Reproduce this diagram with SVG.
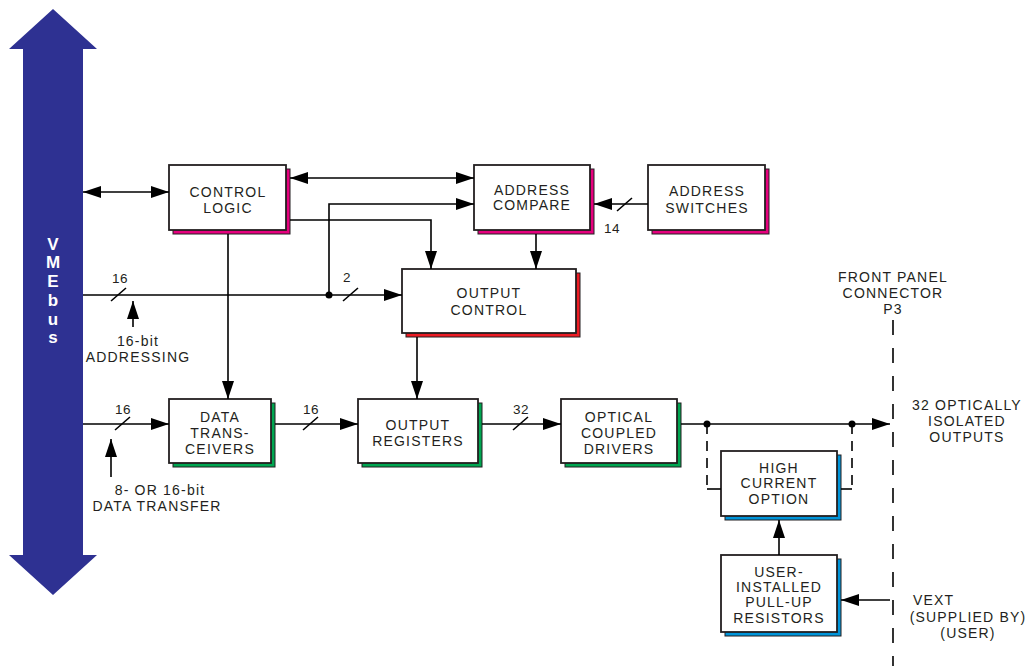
<svg xmlns="http://www.w3.org/2000/svg" width="1030" height="666" viewBox="0 0 1030 666">
<style>
text{font-family:"Liberation Sans",Arial,sans-serif;font-size:14px;fill:#231F20;letter-spacing:1.2px;text-anchor:middle}
.num{font-size:13.5px;letter-spacing:0.5px}
.lft{text-anchor:start}
.vme{fill:#fff;font-weight:bold;font-size:17px;letter-spacing:0}
.box{fill:#fff;stroke:#231F20;stroke-width:1.8}
.sh{stroke:#231F20;stroke-width:1}
.mag{fill:#E6007E}.red{fill:#ED1C24}.grn{fill:#00A651}.blu{fill:#0095DA}
.ln{fill:none;stroke:#000;stroke-width:1.6}
.arr{marker-end:url(#ah)}
.dbl{marker-start:url(#ah);marker-end:url(#ah)}
.dsh{stroke-dasharray:10 7}
.fp{fill:none;stroke:#000;stroke-width:1.6;stroke-dasharray:15 13}
</style>
<defs>
<marker id="ah" markerUnits="userSpaceOnUse" markerWidth="18" markerHeight="12" refX="18" refY="6" orient="auto-start-reverse">
<path d="M0,0 L18,6 L0,12 z" fill="#000"/>
</marker>
</defs>
<rect width="1030" height="666" fill="#fff"/>

<g id="vmebus">
<polygon points="53,9 97,49 83,49 83,555 97,555 53,595 9,555 23,555 23,49 9,49" fill="#2E3192"/>
<text class="vme" x="53" y="250">V</text>
<text class="vme" x="53" y="268">M</text>
<text class="vme" x="53" y="287">E</text>
<text class="vme" x="53" y="306">b</text>
<text class="vme" x="53" y="325">u</text>
<text class="vme" x="53" y="343">s</text>
</g>

<g id="control-logic">
<rect class="sh mag" x="173" y="169" width="117" height="65"/>
<rect class="box" x="169" y="165" width="117" height="65"/>
<text x="228" y="197">CONTROL</text>
<text x="228" y="213">LOGIC</text>
</g>

<g id="address-compare">
<rect class="sh mag" x="478" y="169" width="116" height="65"/>
<rect class="box" x="474" y="165" width="116" height="65"/>
<text x="532" y="195">ADDRESS</text>
<text x="532" y="210">COMPARE</text>
</g>

<g id="address-switches">
<rect class="sh mag" x="652" y="169" width="117" height="65"/>
<rect class="box" x="648" y="165" width="117" height="65"/>
<text x="707" y="196">ADDRESS</text>
<text x="707" y="213">SWITCHES</text>
</g>

<g id="output-control">
<rect class="sh red" x="406" y="273" width="174" height="64"/>
<rect class="box" x="402" y="269" width="174" height="64"/>
<text x="489" y="298">OUTPUT</text>
<text x="489" y="315">CONTROL</text>
</g>

<g id="data-transceivers">
<rect class="sh grn" x="173" y="403" width="102" height="64"/>
<rect class="box" x="169" y="399" width="102" height="64"/>
<text x="220" y="422">DATA</text>
<text x="220" y="438">TRANS-</text>
<text x="220" y="454">CEIVERS</text>
</g>

<g id="output-registers">
<rect class="sh grn" x="362" y="403" width="120" height="64"/>
<rect class="box" x="358" y="399" width="120" height="64"/>
<text x="418" y="430">OUTPUT</text>
<text x="418" y="446">REGISTERS</text>
</g>

<g id="optical-drivers">
<rect class="sh grn" x="565" y="403" width="116" height="64"/>
<rect class="box" x="561" y="399" width="116" height="64"/>
<text x="619" y="422">OPTICAL</text>
<text x="619" y="438">COUPLED</text>
<text x="619" y="454">DRIVERS</text>
</g>

<g id="high-current-option">
<rect class="sh blu" x="725" y="455" width="116" height="65"/>
<rect class="box" x="721" y="451" width="116" height="65"/>
<text x="779" y="473">HIGH</text>
<text x="779" y="488">CURRENT</text>
<text x="779" y="504">OPTION</text>
</g>

<g id="pull-up-resistors">
<rect class="sh blu" x="725" y="559" width="116" height="77"/>
<rect class="box" x="721" y="555" width="116" height="77"/>
<text x="779" y="577">USER-</text>
<text x="779" y="592">INSTALLED</text>
<text x="779" y="607">PULL-UP</text>
<text x="779" y="623">RESISTORS</text>
</g>

<g id="connectors">
<line class="ln dbl" x1="83" y1="192" x2="169" y2="192"/>
<line class="ln dbl" x1="290" y1="178" x2="474" y2="178"/>
<polyline class="ln arr" points="329,295 329,204 474,204"/>
<polyline class="ln arr" points="290,220 431,220 431,269"/>
<line class="ln arr" x1="228" y1="234" x2="228" y2="399"/>
<line class="ln arr" x1="536" y1="234" x2="536" y2="269"/>
<line class="ln arr" x1="648" y1="204" x2="594" y2="204"/>
<line class="ln arr" x1="83" y1="295" x2="402" y2="295"/>
<line class="ln arr" x1="417" y1="337" x2="417" y2="399"/>
<line class="ln arr" x1="83" y1="424" x2="169" y2="424"/>
<line class="ln arr" x1="275" y1="424" x2="358" y2="424"/>
<line class="ln arr" x1="482" y1="424" x2="561" y2="424"/>
<line class="ln arr" x1="681" y1="424" x2="890" y2="424"/>
<line class="ln arr" x1="133" y1="327" x2="133" y2="301"/>
<line class="ln arr" x1="111" y1="477" x2="111" y2="439"/>
<line class="ln arr" x1="779" y1="555" x2="779" y2="520"/>
<line class="ln arr" x1="890" y1="600" x2="841" y2="600"/>
<circle cx="329" cy="295" r="3.5" fill="#000"/>
<circle cx="707" cy="424" r="3.5" fill="#000"/>
<circle cx="852" cy="424" r="3.5" fill="#000"/>
<line class="ln dsh" x1="707" y1="424" x2="707" y2="489"/>
<line class="ln dsh" x1="852" y1="424" x2="852" y2="489"/>
<line class="ln" x1="707" y1="489" x2="721" y2="489"/>
<line class="ln" x1="841" y1="489" x2="852" y2="489"/>
<line class="fp" x1="893" y1="320" x2="893" y2="666"/>
<g class="ln">
<line x1="111" y1="301" x2="126" y2="288"/>
<line x1="343" y1="301" x2="358" y2="288"/>
<line x1="617" y1="211" x2="632" y2="198"/>
<line x1="115" y1="430" x2="130" y2="417"/>
<line x1="303" y1="430" x2="318" y2="417"/>
<line x1="513" y1="430" x2="528" y2="417"/>
</g>
</g>

<g id="labels">
<text class="num" x="120" y="283">16</text>
<text class="num" x="347" y="282">2</text>
<text class="num" x="612" y="233">14</text>
<text class="num" x="123" y="414">16</text>
<text class="num" x="311" y="414">16</text>
<text class="num" x="521" y="414">32</text>
<text x="138" y="346">16-bit</text>
<text x="138" y="362">ADDRESSING</text>
<text x="160" y="495">8- OR 16-bit</text>
<text x="157" y="511">DATA TRANSFER</text>
<text x="893" y="282">FRONT PANEL</text>
<text x="893" y="298">CONNECTOR</text>
<text x="893" y="314">P3</text>
<text x="967" y="410">32 OPTICALLY</text>
<text x="967" y="426">ISOLATED</text>
<text x="967" y="442">OUTPUTS</text>
<text class="lft" x="913" y="605">VEXT</text>
<text x="968" y="622">(SUPPLIED BY)</text>
<text x="968" y="638">(USER)</text>
</g>
</svg>
